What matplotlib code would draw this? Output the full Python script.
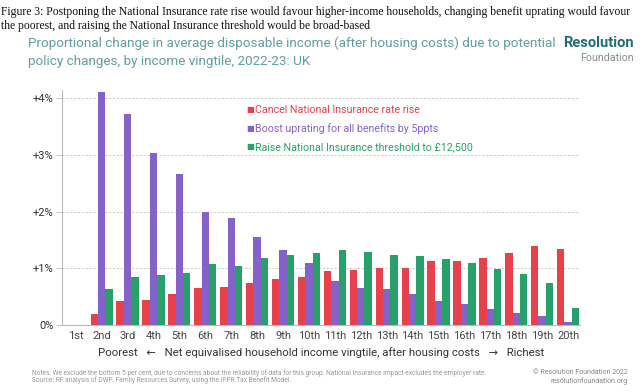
import matplotlib
matplotlib.use('Agg')
import matplotlib.pyplot as plt
import numpy as np

plt.rcParams['font.family'] = ['Roboto', 'DejaVu Sans']

# vingtile labels
vingtiles = ['1st', '2nd', '3rd', '4th', '5th', '6th', '7th', '8th', '9th', '10th',
             '11th', '12th', '13th', '14th', '15th', '16th', '17th', '18th', '19th', '20th']

# proportional change in income (%)
cancel_ni = [0, 0.19, 0.42, 0.45, 0.54, 0.66, 0.67, 0.75, 0.81, 0.84,
             0.96, 0.97, 1.01, 1.01, 1.13, 1.13, 1.19, 1.28, 1.40, 1.34]
boost_uprating = [0, 4.11, 3.72, 3.03, 2.67, 1.99, 1.89, 1.55, 1.32, 1.10,
                  0.77, 0.65, 0.64, 0.55, 0.42, 0.37, 0.28, 0.22, 0.16, 0.05]
raise_threshold = [0, 0.64, 0.84, 0.88, 0.91, 1.07, 1.04, 1.19, 1.24, 1.27,
                   1.32, 1.29, 1.24, 1.22, 1.17, 1.10, 0.99, 0.90, 0.74, 0.30]

series_names = ['Cancel National Insurance rate rise',
                'Boost uprating for all benefits by 5ppts',
                'Raise National Insurance threshold to £12,500']
colors = ['#e8414b', '#8462c9', '#27a06a']

ytick_vals = [0, 1, 2, 3, 4]
ytick_labels = ['0%', '+1%', '+2%', '+3%', '+4%']

fig = plt.figure(figsize=(6.4, 3.92), dpi=100)
W, H = 640, 392
# axes box in pixels: left 62, right 580, top 90, bottom 325
ax = fig.add_axes([62 / W, 1 - 325 / H, (580 - 62) / W, (325 - 90) / H])

x = np.arange(len(vingtiles))
bw = 0.285
for i, (vals, c) in enumerate(zip([cancel_ni, boost_uprating, raise_threshold], colors)):
    ax.bar(x + (i - 1) * bw, vals, width=bw, color=c, linewidth=0, zorder=3)

ax.set_xlim(-0.53, 19.46)
ax.set_ylim(0, 4.15)
ax.set_yticks(ytick_vals)
ax.set_yticklabels(ytick_labels, fontsize=8, color='#333333')
ax.set_xticks(x)
ax.set_xticklabels(vingtiles, fontsize=8, color='#444444')
ax.tick_params(axis='x', length=0, pad=4)
ax.tick_params(axis='y', length=4, width=0.6, color='#bbbbbb', pad=2)
for v in ytick_vals[1:]:
    ax.axhline(v, color='#c8c8c8', lw=0.7, ls=(0, (2, 2)), zorder=1)
for s in ['top', 'right']:
    ax.spines[s].set_visible(False)
for s in ['left', 'bottom']:
    ax.spines[s].set_color('#bbbbbb')
    ax.spines[s].set_linewidth(0.8)

ax.set_xlabel('Poorest   \u2190   Net equivalised household income vingtile, after housing costs   \u2192   Richest',
              fontsize=8.2, color='#333333', labelpad=5)

# legend as coloured text with square markers
for i, (name, c) in enumerate(zip(series_names, colors)):
    yy = 110 + i * 18.5
    fig.text(246 / W, 1 - yy / H, '\u25A0', color=c, fontsize=6, va='center', ha='left',
             family='DejaVu Sans')
    fig.text(255 / W, 1 - yy / H, name, color=c, fontsize=7.7, va='center', ha='left')

# headline
fig.text(0.002, 1 - 12 / H,
         'Figure 3: Postponing the National Insurance rate rise would favour higher-income households, changing benefit uprating would favour',
         fontsize=8.4, family='Liberation Serif', color='#111111', va='center', ha='left')
fig.text(0.002, 1 - 26 / H,
         'the poorest, and raising the National Insurance threshold would be broad-based',
         fontsize=8.4, family='Liberation Serif', color='#111111', va='center', ha='left')

# chart title
fig.text(28 / W, 1 - 43 / H,
         'Proportional change in average disposable income (after housing costs) due to potential',
         fontsize=9.7, color='#5f9ea3', va='center', ha='left')
fig.text(28 / W, 1 - 61 / H, 'policy changes, by income vingtile, 2022-23: UK',
         fontsize=9.7, color='#5f9ea3', va='center', ha='left')

# logo
fig.text(634 / W, 1 - 43 / H, 'Resolution', fontsize=10.5, fontweight='bold',
         color='#1f6d78', va='center', ha='right')
fig.text(634 / W, 1 - 58 / H, 'Foundation', fontsize=7.7, color='#8a8a8a',
         va='center', ha='right')

# notes
fig.text(32 / W, 1 - 373 / H,
         'Notes: We exclude the bottom 5 per cent, due to concerns about the reliability of data for this group. '
         'National Insurance impact excludes the employer rate.',
         fontsize=4.8, color='#999999', va='center', ha='left')
fig.text(32 / W, 1 - 380 / H,
         'Source: RF analysis of DWP, Family Resources Survey, using the IPPR Tax Benefit Model.',
         fontsize=4.8, color='#999999', va='center', ha='left')
fig.text(628 / W, 1 - 373 / H, '\u00a9 Resolution Foundation 2022', fontsize=5,
         color='#888888', va='center', ha='right')
fig.text(628 / W, 1 - 381 / H, 'resolutionfoundation.org', fontsize=5,
         color='#888888', va='center', ha='right')

fig.savefig('out.png', dpi=100, facecolor='white')
